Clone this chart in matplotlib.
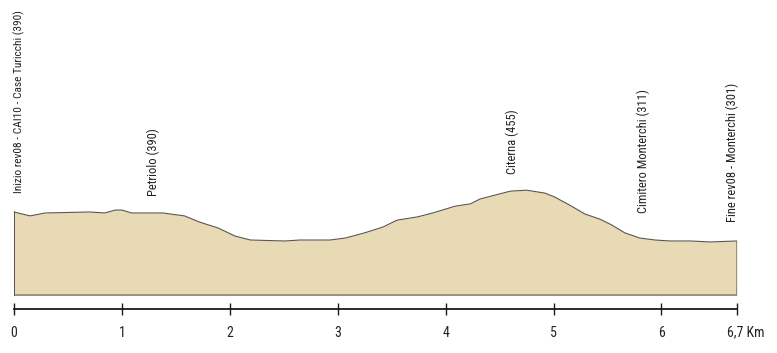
import matplotlib
matplotlib.use("Agg")
import matplotlib.pyplot as plt
import matplotlib.transforms as mt
from matplotlib import font_manager as fm

# distance (km) and elevation (m)
dist = [0.00, 0.15, 0.29, 0.70, 0.80, 0.84, 0.94, 1.00, 1.09, 1.38, 1.58, 1.72, 1.89,
        2.05, 2.19, 2.51, 2.65, 2.93, 3.07, 3.25, 3.42, 3.55, 3.74, 3.88, 4.09, 4.23,
        4.32, 4.46, 4.60, 4.75, 4.92, 5.01, 5.15, 5.29, 5.43, 5.54, 5.66, 5.80, 5.94,
        6.08, 6.27, 6.45, 6.70]
elev = [390, 378, 387, 390, 388, 387, 396, 396, 387, 387, 378, 359, 341,
        316, 304, 301, 304, 304, 310, 326, 344, 365, 375, 387, 408, 415,
        430, 442, 454, 457, 448, 436, 411, 384, 368, 350, 326, 310, 304,
        301, 301, 298, 301]

wp_km = [0.0, 1.29, 4.62, 5.83, 6.66]
wp_elev = [390, 390, 455, 311, 301]
wp_names = ["Inizio rev08 - CAI10 - Case Turicchi (390)", "Petriolo (390)",
            "Citerna (455)", "Cimitero Monterchi (311)", "Fine rev08 - Monterchi (301)"]

tick_vals = [0, 1, 2, 3, 4, 5, 6, 6.7]
tick_labels = ["0", "1", "2", "3", "4", "5", "6", "6,7 Km"]

base_elev = 135
fill_color = "#e8dab4"
edge_color = "#5a5550"

# find a condensed font if one exists
cond = None
pref = ["Liberation Sans Narrow", "DejaVu Sans Condensed", "Roboto Condensed",
        "Open Sans Condensed", "Noto Sans Condensed", "Arial Narrow"]
for p in pref:
    for f in fm.fontManager.ttflist:
        if f.name == p and f.style == "normal" and f.weight in (400, "normal", "regular"):
            cond = f.fname
            break
    if cond:
        break
if cond is None:
    for f in fm.fontManager.ttflist:
        st = str(f.stretch).lower()
        if f.style == "normal" and ("condensed" in st or "narrow" in st or (isinstance(f.stretch, int) and f.stretch < 500)) \
                and f.weight in (400, "normal", "regular"):
            cond = f.fname
            break

def fp(size):
    if cond:
        return fm.FontProperties(fname=cond, size=size)
    return fm.FontProperties(family="DejaVu Sans", size=size * 0.8)

fig = plt.figure(figsize=(7.77, 3.53), dpi=100)
fig.patch.set_facecolor("white")
ax = fig.add_axes([14 / 777, 0, 723 / 777, 1])
ax.set_facecolor("none")

ax.fill_between(dist, elev, base_elev, color=fill_color, lw=0)
xs = [dist[0]] + dist + [dist[-1], dist[0], dist[0]]
ys = [base_elev] + elev + [base_elev, base_elev, elev[0]]
ax.plot(xs, ys, color=edge_color, lw=0.8)

offs = [(4, 14), (0, 11.5), (0, 12), (0, 18), (0, 14)]
sizes = [8.2, 9, 9, 9, 9]
for k, e, n, o, s in zip(wp_km, wp_elev, wp_names, offs, sizes):
    ax.annotate(n, (k, e), xytext=o, textcoords="offset points",
                rotation=90, ha="center", va="bottom", fontproperties=fp(s),
                color="#222222")

ax.set_xlim(0, 6.7)
ax.set_ylim(-43, 1041)
for s in ["top", "left", "right"]:
    ax.spines[s].set_visible(False)
ax.spines["bottom"].set_position(("data", 92))
ax.spines["bottom"].set_linewidth(1.3)
ax.spines["bottom"].set_color("#1a1a1a")
ax.set_yticks([])
ax.set_xticks(tick_vals)
ax.set_xticklabels(tick_labels, color="#222222")
for l in ax.get_xticklabels():
    l.set_fontproperties(fp(10))
ax.tick_params(axis="x", direction="inout", length=8, width=1.0, pad=8, color="#1a1a1a")
lbls = ax.get_xticklabels()
lbls[-1].set_ha("left")
lbls[-1].set_transform(lbls[-1].get_transform() + mt.ScaledTranslation(-10 / 100, 0, fig.dpi_scale_trans))

fig.savefig("out.png", dpi=100)
